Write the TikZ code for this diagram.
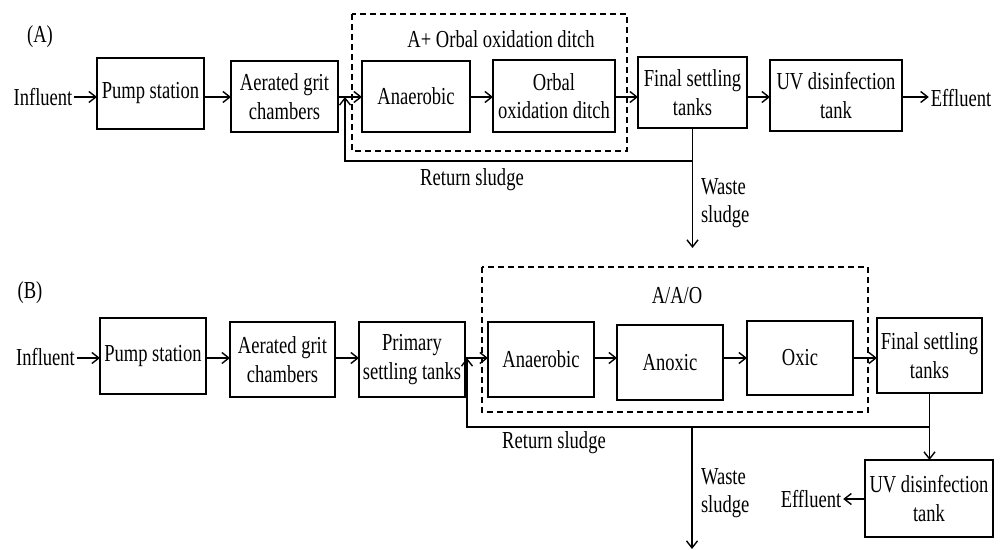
\documentclass[tikz,border=0pt]{standalone}
\usepackage{fontspec}
\setmainfont{Liberation Serif}[FakeStretch=0.76]
\usetikzlibrary{arrows.meta,calc}
\begin{document}
\begin{tikzpicture}[x=0.5pt,y=-0.5pt, line width=0.7pt,
  box/.style={draw, inner sep=0pt, outer sep=0pt, align=center},
  lbl/.style={inner sep=1pt, outer sep=0pt},
  arr/.style={-{Straight Barb[length=3.5pt,width=5.5pt]}},
  group/.style={draw, dash pattern=on 3pt off 2pt, line width=0.6pt},
  every node/.style={font=\fontsize{12.2pt}{14.3pt}\selectfont}]
\useasboundingbox (0,0) rectangle (1000,550);

% ---------------- Panel A ----------------
\draw[group] (352,14) rectangle (627,151);
\node[lbl] (tA) at (501,39) {A+ Orbal oxidation ditch};
\node[lbl] (labA) at (40,37) {(A)};
\node[lbl] (infA) at (43,97) {Influent};
\node[box,minimum width=53.5pt,minimum height=35.5pt] (pumpA) at (150.5,93.5) {Pump station};
\node[box,minimum width=53.5pt,minimum height=35.5pt] (gritA) at (284.5,96.5) {Aerated grit\\chambers};
\node[box,minimum width=54pt,minimum height=35.5pt] (anaA) at (416,96.5) {Anaerobic};
\node[box,minimum width=61pt,minimum height=36pt] (orbA) at (554,96) {Orbal\\oxidation ditch};
\node[box,minimum width=54.5pt,minimum height=35.5pt] (finA) at (692.5,92.5) {Final settling\\tanks};
\node[box,minimum width=66pt,minimum height=35.5pt] (uvA) at (836,95.5) {UV disinfection\\tank};
\node[lbl] (effA) at (961,98) {Effluent};
\coordinate (rowA) at (0,97);
\coordinate (retA) at (345,161);
\coordinate (wasteA) at (692,248);
\draw[arr] (infA.east |- rowA) -- (pumpA.west |- rowA);
\draw[arr] (pumpA.east |- rowA) -- (gritA.west |- rowA);
\draw[arr] (gritA.east |- rowA) -- (anaA.west |- rowA);
\draw[arr] (anaA.east |- rowA) -- (orbA.west |- rowA);
\draw[arr] (orbA.east |- rowA) -- (finA.west |- rowA);
\draw[arr] (finA.east |- rowA) -- (uvA.west |- rowA);
\draw[arr] (uvA.east |- rowA) -- (effA.west |- rowA);
\draw[arr] (finA.south) -- (finA.south |- retA) -| (retA |- rowA);
\draw[arr] (finA.south) -- (finA.south |- wasteA);
\node[lbl] (rsA) at (472,180) {Return sludge};
\node[lbl,align=left,anchor=west] (wA) at (699,203) {Waste\\sludge};

% ---------------- Panel B ----------------
\draw[group] (482,267) rectangle (868,412);
\node[lbl] (tB) at (677,296) {A/A/O};
\node[lbl] (labB) at (30,293) {(B)};
\node[lbl] (infB) at (45.5,357) {Influent};
\node[box,minimum width=53pt,minimum height=38pt] (pumpB) at (153,356) {Pump station};
\node[box,minimum width=52.5pt,minimum height=37.5pt] (gritB) at (282.5,359.5) {Aerated grit\\chambers};
\node[box,minimum width=53pt,minimum height=37.5pt] (primB) at (412,359.5) {Primary\\settling tanks};
\node[box,minimum width=53pt,minimum height=37.5pt] (anaB) at (541,359.5) {Anaerobic};
\node[box,minimum width=53pt,minimum height=37.5pt] (anoxB) at (670,362.5) {Anoxic};
\node[box,minimum width=53pt,minimum height=37pt] (oxB) at (800,358) {Oxic};
\node[box,minimum width=52.5pt,minimum height=37.5pt] (finB) at (929.5,355.5) {Final settling\\tanks};
\node[box,minimum width=64pt,minimum height=38.5pt] (uvB) at (929,498.5) {UV disinfection\\tank};
\node[lbl] (effB) at (811,499) {Effluent};
\coordinate (rowB) at (0,358);
\coordinate (retB) at (467,427);
\coordinate (jB) at (692,427);
\coordinate (wasteB) at (692,549);
\draw[arr] (infB.east |- rowB) -- (pumpB.west |- rowB);
\draw[arr] (pumpB.east |- rowB) -- (gritB.west |- rowB);
\draw[arr] (gritB.east |- rowB) -- (primB.west |- rowB);
\draw[arr] (primB.east |- rowB) -- (anaB.west |- rowB);
\draw[arr] (anaB.east |- rowB) -- (anoxB.west |- rowB);
\draw[arr] (anoxB.east |- rowB) -- (oxB.west |- rowB);
\draw[arr] (oxB.east |- rowB) -- (finB.west |- rowB);
\draw[arr] (finB.south) -- (finB.south |- uvB.north);
\draw[arr] (finB.south |- retB) -- (retB) -- (retB |- rowB);
\draw[arr] (jB) -- (wasteB);
\draw[arr] (uvB.west |- effB) -- (effB.east);
\node[lbl] (rsB) at (554,443) {Return sludge};
\node[lbl,align=left,anchor=west] (wB) at (699,493) {Waste\\sludge};
\end{tikzpicture}
\end{document}
